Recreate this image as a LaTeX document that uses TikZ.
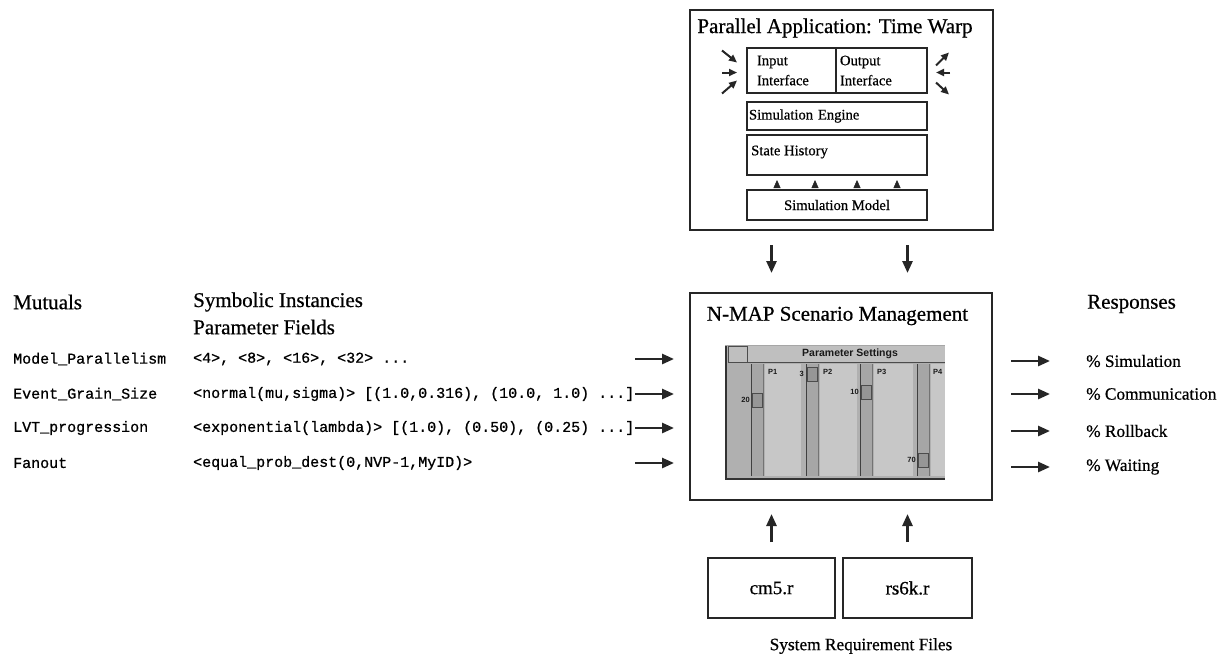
\documentclass[tikz,border=0pt]{standalone}
\usepackage{fontspec}
\setmainfont{Liberation Serif}[FakeBold=0.6]
\setmonofont{Liberation Mono}[FakeBold=0.8]
\setsansfont{Liberation Sans}
\usetikzlibrary{arrows.meta,calc}

\tikzset{
  x=1pt, y=-1pt,
  frame/.style={draw=black!85, line width=2pt, inner sep=0pt},
  big/.style={font=\fontsize{21}{24}\selectfont},
  small/.style={font=\fontsize{14.6}{20}\selectfont},
  resp/.style={font=\fontsize{17.3}{20}\selectfont},
  code/.style={font=\ttfamily\fontsize{15}{18}\selectfont, anchor=west, inner sep=0pt},
  flow/.style={draw=black!85, line width=2.6pt, -{Triangle[length=12pt,width=10pt]}},
  ifarrow/.style={draw=black!85, line width=2pt, -{Triangle[length=8pt,width=7pt]}},
  tri/.style={draw=black!85, line width=0.4pt, -{Triangle[length=8pt,width=7pt]}},
  guilabel/.style={font=\sffamily\bfseries\fontsize{7.5}{8}\selectfont, inner sep=0pt, text=black!90},
}

\begin{document}
\begin{tikzpicture}
\useasboundingbox[fill=white] (0,0) rectangle (1222,654);

% ---------- Time Warp application ----------
\node[frame, minimum width=303pt, minimum height=220pt] (app) at (841.5,120) {};
\node[big] (apptitle) at (835,28) {Parallel Application: Time Warp};
\node[frame, small, minimum width=89pt, minimum height=45pt, text width=69pt,
      inner xsep=10pt, align=left] (inp) at (791.5,70.5) {Input\\Interface};
\node[frame, small, minimum width=91pt, minimum height=45pt, text width=83pt,
      inner xsep=4pt, align=left] (outp) at (881.5,70.5) {Output\\Interface};
\node[frame, small, minimum width=180pt, minimum height=28pt, text width=176pt,
      inner xsep=2pt, align=left] (engine) at (837,116) {Simulation Engine};
\node[frame, minimum width=180pt, minimum height=40pt] (hist) at (837,155) {};
\node[small, anchor=west, inner sep=0pt] (histtext) at ($(hist.west)+(5,-3)$) {State History};
\node[frame, small, minimum width=180pt, minimum height=30pt] (model) at (837,205) {Simulation Model};

% model feeding the state history
\foreach \dx in {-60,-22,20,60}
  \draw[tri] ($(model.north)+(\dx,-3)$) -- ($(hist.south)+(\dx,4)$);

% traffic into and out of the interfaces
\draw[ifarrow] ($(inp.west)+(-24,-20)$) -- ($(inp.west)+(-9,-8)$);
\draw[ifarrow] ($(inp.west)+(-24,2)$) -- ($(inp.west)+(-9,2)$);
\draw[ifarrow] ($(inp.west)+(-24,23)$) -- ($(inp.west)+(-9,10)$);
\draw[ifarrow] ($(outp.east)+(8,-5)$) -- ($(outp.east)+(21,-18)$);
\draw[ifarrow] ($(outp.east)+(22,2)$) -- ($(outp.east)+(8,2)$);
\draw[ifarrow] ($(outp.east)+(8,12)$) -- ($(outp.east)+(21,24)$);

% ---------- N-MAP scenario management ----------
\node[frame, minimum width=302pt, minimum height=207pt] (nmap) at (841,396.5) {};
\node[big] (nmaptitle) at (837.5,316) {N-MAP Scenario Management};

% parameter settings window
\fill[gray!62] (725,345) rectangle (945,479);
\fill[gray!50] (728,346) rectangle (945,362);
\draw[black!70, line width=0.8pt] (728,346) rectangle (747,362);
\draw[black!70, line width=0.8pt] (728,362) -- (945,362);
\node[guilabel, font=\sffamily\bfseries\fontsize{10.5}{11}\selectfont] (wintitle) at (850,354) {Parameter Settings};
\foreach \px/\pw in {765/36, 820/37, 874/39, 931/14}
  \fill[gray!44] (\px,364) rectangle ++(\pw,112);
\foreach \tx in {751,806,860,917}{
  \fill[gray!70] (\tx,364) rectangle ++(12,112);
  \draw[black!75, line width=0.8pt] (\tx,364) -- ++(0,112);
  \draw[black!55, line width=0.6pt] (\tx+12,364) -- ++(0,112);
}
\foreach \tx/\ty in {751/393, 806/367, 860/385, 917/453}{
  \fill[gray!82] (\tx+1,\ty) rectangle ++(10,14);
  \draw[black!70, line width=0.6pt] (\tx+1,\ty) rectangle ++(10,14);
}
\node[guilabel, anchor=east] (v1) at (750,400) {20};
\node[guilabel, anchor=east] (v2) at (804,374) {3};
\node[guilabel, anchor=east] (v3) at (859,392) {10};
\node[guilabel, anchor=east] (v4) at (916,460) {70};
\node[guilabel, anchor=west] (p1) at (768,372) {P1};
\node[guilabel, anchor=west] (p2) at (823,372) {P2};
\node[guilabel, anchor=west] (p3) at (877,372) {P3};
\node[guilabel, anchor=west] (p4) at (933,372) {P4};
\draw[black!80, line width=2pt] (726,346) -- (726,479) -- (945,479);
\draw[gray!70, line width=1pt] (725,345) -- (945,345);

% ---------- system requirement files ----------
\node[frame, font=\fontsize{19}{22}\selectfont, minimum width=127pt, minimum height=60pt] (cm5) at (771.5,588) {cm5.r};
\node[frame, font=\fontsize{19}{22}\selectfont, minimum width=129pt, minimum height=60pt] (rs6k) at (907.5,588) {rs6k.r};
\node[resp] (sysreq) at (861,646) {System Requirement Files};

% ---------- mutuals and parameter fields ----------
\node[big, anchor=west, inner sep=0pt] (mutuals) at (13,302) {Mutuals};
\node[big, anchor=west, inner sep=0pt] (symb) at (193,302) {Symbolic Instancies};
\node[big, anchor=west, inner sep=0pt] (pfields) at (193,327) {Parameter Fields};

\node[code] (m1) at (13,359) {Model\_Parallelism};
\node[code] (m2) at (13,394) {Event\_Grain\_Size};
\node[code] (m3) at (13,428) {LVT\_progression};
\node[code] (m4) at (13,463) {Fanout};
\node[code] (f1) at (193,359) {<4>, <8>, <16>, <32> ...};
\node[code] (f2) at (193,394) {<normal(mu,sigma)> [(1.0,0.316), (10.0, 1.0) ...]};
\node[code] (f3) at (193,428) {<exponential(lambda)> [(1.0), (0.50), (0.25) ...]};
\node[code] (f4) at (193,463) {<equal\_prob\_dest(0,NVP-1,MyID)>};

\foreach \i/\yy in {1/359, 2/394, 3/428, 4/463}{
  \coordinate (la\i) at (635,\yy);
  \draw[flow, shorten >=15pt] (la\i) -- (la\i -| nmap.west);
}

% ---------- responses ----------
\node[big, anchor=west, inner sep=0pt] (responses) at (1087,304) {Responses};
\node[resp, anchor=west, inner sep=0pt] (r1) at (1086,361) {\% Simulation};
\node[resp, anchor=west, inner sep=0pt] (r2) at (1086,394) {\% Communication};
\node[resp, anchor=west, inner sep=0pt] (r3) at (1086,431) {\% Rollback};
\node[resp, anchor=west, inner sep=0pt] (r4) at (1086,467) {\% Waiting};
\foreach \r in {r1,r2,r3,r4}
  \draw[flow, shorten <=18pt, shorten >=36pt] (nmap.east |- \r.west) -- (\r.west);

% ---------- vertical flows ----------
\draw[flow, shorten <=14pt, shorten >=19pt] (app.south -| cm5) -- (nmap.north -| cm5);
\draw[flow, shorten <=14pt, shorten >=19pt] (app.south -| rs6k) -- (nmap.north -| rs6k);
\draw[flow, shorten <=15pt, shorten >=13pt] (cm5.north) -- (nmap.south -| cm5);
\draw[flow, shorten <=15pt, shorten >=13pt] (rs6k.north) -- (nmap.south -| rs6k);
\end{tikzpicture}
\end{document}
